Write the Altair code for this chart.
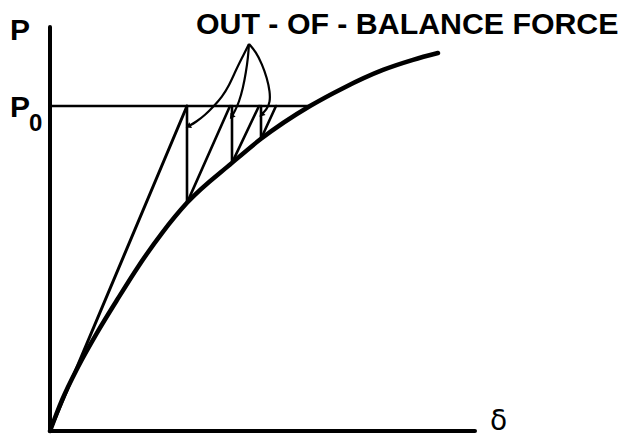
import altair as alt
import pandas as pd

# Load–deflection curve: deflection δ and load P (P normalised so that P0 = 1)
curve_delta = [0.0, 0.30, 0.70, 1.175, 1.675, 2.20, 2.80, 3.425, 4.55, 5.275,
               6.50, 7.325, 8.325, 9.075, 9.70]
curve_p = [0.0, 0.095, 0.197, 0.302, 0.403, 0.505, 0.609, 0.702, 0.825, 0.899,
           1.0, 1.055, 1.111, 1.142, 1.163]

# Applied load level and where it meets the true curve
p0_level = 1.0
p0_delta_end = 6.50

# Initial (tangent) stiffness line
k0_delta = [0.0, 3.425]
k0_p = [0.0, 1.0]

# Constant-stiffness iterations: vertical drops and re-loading lines
iter_d1 = [3.425, 3.425, 4.55, 4.55, 5.275, 5.275]
iter_p1 = [1.0, 0.702, 1.0, 0.825, 1.0, 0.899]
iter_d2 = [3.425, 4.50, 4.55, 5.225, 5.275, 5.65]
iter_p2 = [0.702, 1.0, 0.825, 1.0, 0.899, 1.0]

# Axis extents
axis_delta_max = 10.625
axis_p_max = 1.243

# Leader curves from the "out-of-balance force" note to each vertical drop
lead_left_d = [4.975, 4.80, 4.65, 4.475, 4.30, 4.10, 3.875, 3.65, 3.475]
lead_left_p = [1.191, 1.148, 1.111, 1.062, 1.028, 1.0, 0.972, 0.951, 0.9385]
lead_mid_d = [4.975, 4.95, 4.90, 4.825, 4.725, 4.625, 4.55]
lead_mid_p = [1.191, 1.148, 1.105, 1.055, 1.012, 0.985, 0.969]
lead_right_d = [4.975, 5.15, 5.30, 5.425, 5.50, 5.50, 5.425, 5.30]
lead_right_p = [1.191, 1.166, 1.129, 1.086, 1.043, 1.012, 0.991, 0.975]
head_angle = [245, 215, 225]

INK = "#000000"
X_SCALE = alt.Scale(domain=[-1.25, 14.225], nice=False, zero=False)
Y_SCALE = alt.Scale(domain=[-0.0277, 1.3262], nice=False, zero=False)


def xq(field):
    return alt.X(f"{field}:Q", scale=X_SCALE, axis=None)


def yq(field):
    return alt.Y(f"{field}:Q", scale=Y_SCALE, axis=None)


def segments(df, width):
    return alt.Chart(df).mark_rule(color=INK, strokeWidth=width, strokeCap="round").encode(
        x=xq("d1"), y=yq("p1"), x2="d2:Q", y2="p2:Q"
    )


axes_df = pd.DataFrame({
    "d1": [0.0, 0.0], "p1": [0.0, 0.0],
    "d2": [0.0, axis_delta_max], "p2": [axis_p_max, 0.0],
})
p0_df = pd.DataFrame({"d1": [0.0], "p1": [p0_level], "d2": [p0_delta_end], "p2": [p0_level]})
k0_df = pd.DataFrame({"d1": [k0_delta[0]], "p1": [k0_p[0]], "d2": [k0_delta[1]], "p2": [k0_p[1]]})
iter_df = pd.DataFrame({"d1": iter_d1, "p1": iter_p1, "d2": iter_d2, "p2": iter_p2})
curve_df = pd.DataFrame({"delta": curve_delta, "p": curve_p})

lead_rows = []
for name, ds, ps in [("a", lead_left_d, lead_left_p),
                     ("b", lead_mid_d, lead_mid_p),
                     ("c", lead_right_d, lead_right_p)]:
    for i, (d, p) in enumerate(zip(ds, ps)):
        lead_rows.append({"lead": name, "i": i, "delta": d, "p": p})
lead_df = pd.DataFrame(lead_rows)

heads_df = pd.DataFrame({
    "delta": [lead_left_d[-1], lead_mid_d[-1], lead_right_d[-1]],
    "p": [lead_left_p[-1], lead_mid_p[-1], lead_right_p[-1]],
    "ang": head_angle,
})

axes = segments(axes_df, 4)
p0_line = segments(p0_df, 2.5)
k0_line = segments(k0_df, 3)
iters = segments(iter_df, 2.6)

curve = alt.Chart(curve_df).mark_line(
    color=INK, strokeWidth=4.5, interpolate="monotone", strokeCap="round"
).encode(x=xq("delta"), y=yq("p"))

leads = alt.Chart(lead_df).mark_line(
    color=INK, strokeWidth=2.2, interpolate="basis"
).encode(x=xq("delta"), y=yq("p"), detail="lead:N", order="i:Q")

heads = alt.Chart(heads_df).mark_point(
    shape="triangle", filled=True, size=40, color=INK, opacity=1
).encode(x=xq("delta"), y=yq("p"), angle=alt.Angle("ang:Q", scale=None))


def label(text, px, py, size, font="Liberation Sans", weight="bold"):
    return alt.Chart(pd.DataFrame({"t": [text]})).mark_text(
        align="left", baseline="alphabetic", font=font, fontSize=size,
        fontWeight=weight, color=INK
    ).encode(x=alt.value(px), y=alt.value(py), text="t:N")


title = label("OUT - OF - BALANCE FORCE", 196, 34, 30.3)
p_lab = label("P", 10, 40, 30)
p0_lab = label("P", 10, 117, 30)
p0_sub = label("0", 29, 131, 24)
delta_lab = label("δ", 490, 430, 28, font="DejaVu Sans", weight="normal")

chart = alt.layer(
    p0_line, k0_line, iters, curve, leads, heads, axes,
    title, p_lab, p0_lab, p0_sub, delta_lab
).properties(
    width=619, height=440, padding=0, autosize=alt.AutoSizeParams(type="none"),
    background="white"
).configure_view(stroke=None)

chart.save("out.html", embed_options={"renderer": "svg", "actions": False})
